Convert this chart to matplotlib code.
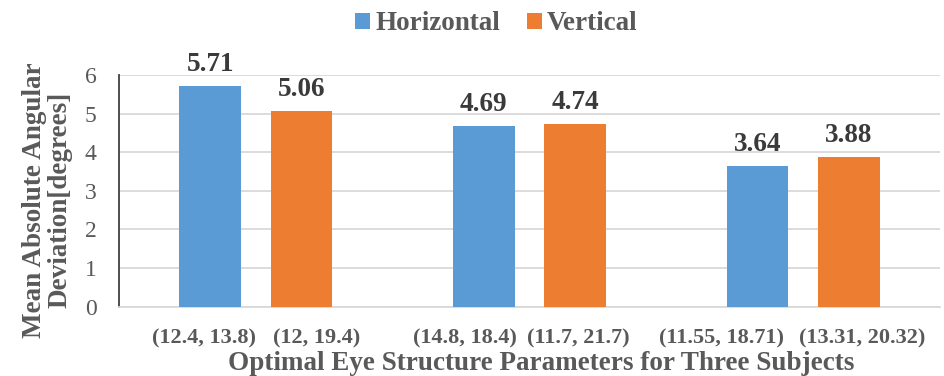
import matplotlib
matplotlib.use("Agg")
import matplotlib.pyplot as plt
import numpy as np

groups = ["Subject 1", "Subject 2", "Subject 3"]
series = ["Horizontal", "Vertical"]
horizontal = [5.71, 4.69, 3.64]
vertical = [5.06, 4.74, 3.88]
bar_labels_h = ["(12.4, 13.8)", "(14.8, 18.4)", "(11.55, 18.71)"]
bar_labels_v = ["(12, 19.4)", "(11.7, 21.7)", "(13.31, 20.32)"]
yticks = [0, 1, 2, 3, 4, 5, 6]

plt.rcParams['font.family'] = ['Liberation Serif', 'DejaVu Serif']

W, H = 945, 376
fig = plt.figure(figsize=(W / 100, H / 100), dpi=100)
ax = fig.add_axes([119 / W, 1 - 306.7 / H, (940 - 119) / W, (306.7 - 75) / H])

blue = "#5B9BD5"
orange = "#ED7D31"
x = np.arange(len(groups))
w = 0.225
xh = x + 1 / 3
xv = x + 2 / 3
b1 = ax.bar(xh, horizontal, w, color=blue, label=series[0], zorder=3)
b2 = ax.bar(xv, vertical, w, color=orange, label=series[1], zorder=3)

for bars, vals in ((b1, horizontal), (b2, vertical)):
    for r, v in zip(bars, vals):
        ax.annotate(f"{v:.2f}", (r.get_x() + r.get_width() / 2, v), xytext=(0, 10.8),
                    textcoords='offset points', ha='center', va='baseline',
                    fontsize=19.5, fontweight='bold', color='#3A3A3A')

ax.set_xlim(0, 3)
ax.set_ylim(0, 6)
ax.set_yticks(yticks)
ax.set_yticklabels([str(t) for t in yticks], fontsize=17, color='#595959')
ax.tick_params(axis='y', length=0, pad=16)
ax.yaxis.grid(True, color='#D9D9D9', linewidth=1.3, zorder=0)
ax.set_axisbelow(True)

# label placement offsets (layout only)
off_h = [-0.022, -0.069, -0.133]
off_v = [0.056, 0.010, 0.048]
pos = np.concatenate([xh + np.array(off_h), xv + np.array(off_v)])
labs = bar_labels_h + bar_labels_v
ax.set_xticks(pos)
ax.set_xticklabels(labs, fontsize=16, fontweight='bold', color='#595959')
ax.tick_params(axis='x', length=0, pad=16)

for s in ['top', 'right']:
    ax.spines[s].set_visible(False)
ax.spines['left'].set_color('#404040')
ax.spines['left'].set_linewidth(1.3)
ax.spines['bottom'].set_color('#D9D9D9')
ax.spines['bottom'].set_linewidth(1.3)

ax.set_ylabel("Mean Absolute Angular\nDeviation[degrees]", fontsize=19.5, fontweight='bold',
              color='#595959', linespacing=1.0)
ax.yaxis.set_label_coords(-0.057, 0.46)
ax.set_xlabel("Optimal Eye Structure Parameters for Three Subjects", fontsize=19.5,
              fontweight='bold', color='#595959')
ax.xaxis.label.set_va('baseline')
ax.xaxis.set_label_coords(0.514, (306.7 - 369.5) / (306.7 - 75))

fig.legend(handles=[b1, b2], labels=series, loc='center', bbox_to_anchor=(496.5 / W, 1 - 24 / H),
           ncol=2, frameon=False, prop={'size': 19.5, 'weight': 'bold'}, handlelength=0.55,
           handleheight=0.55, handletextpad=0.19, columnspacing=1.0, labelcolor='#595959',
           borderpad=0, borderaxespad=0)

fig.savefig("out.png", dpi=100)
